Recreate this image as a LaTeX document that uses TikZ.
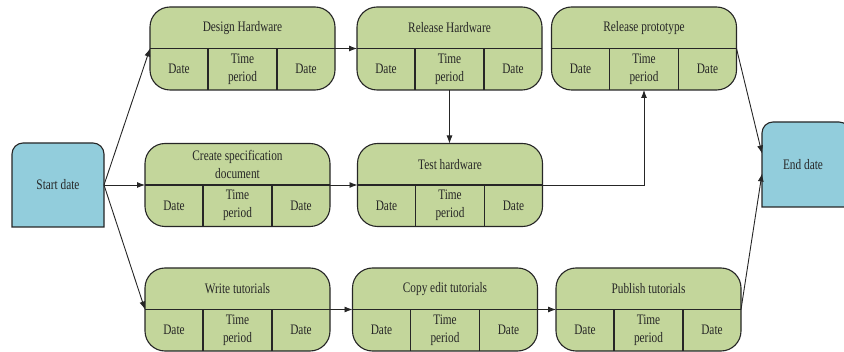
\documentclass[tikz,border=0pt]{standalone}
\usepackage{fontspec}
\setmainfont{Liberation Serif}[FakeStretch=0.78]
\usetikzlibrary{arrows.meta,backgrounds}

\definecolor{taskgreen}{HTML}{C3D69B}
\definecolor{termblue}{HTML}{92CDDC}

% name, position, title
\newcommand\taskbox[3]{%
    \node[task] (#1) at (#2) {};
    \node[tasktext] at ([yshift=20.5pt]#1.center) {#3};
    \draw[taskline] (#1.west) -- (#1.east)
        ([xshift=58pt]#1.south west) -- ([xshift=58pt]#1.west)
        ([xshift=-58pt]#1.south east) -- ([xshift=-58pt]#1.east);
    \node[tasktext] at ([xshift=-63.5pt,yshift=-20.5pt]#1.center) {Date};
    \node[tasktext] at ([yshift=-20.5pt]#1.center) {Time\\period};
    \node[tasktext] at ([xshift=63.5pt,yshift=-20.5pt]#1.center) {Date};
}
% top corners rounded only
\newcommand\termshape[1]{%
    \begin{scope}[on background layer]
    \filldraw[termline] (#1.south west) -- ([yshift=-11pt]#1.north west)
        arc[start angle=180, end angle=90, radius=11pt]
        -- ([xshift=-11pt]#1.north east)
        arc[start angle=90, end angle=0, radius=11pt]
        -- (#1.south east) -- cycle;
    \end{scope}
}

\begin{document}
\begin{tikzpicture}[
        x=1pt, y=1pt,
        task/.style={draw=black!85, line width=1.1pt, fill=taskgreen, rounded corners=20pt,
                     minimum width=185pt, minimum height=83pt, outer sep=0pt},
        tasktext/.style={align=center, inner sep=0pt, text=black!85,
                         font=\fontsize{14.5}{18}\selectfont},
        taskline/.style={draw=black!85, line width=1.1pt},
        term/.style={minimum width=92pt, minimum height=84pt, outer sep=0pt, inner sep=0pt,
                     text=black!85, font=\fontsize{14.5}{18}\selectfont},
        termline/.style={draw=black!85, line width=1.1pt, fill=termblue},
        arr/.style={draw=black!85, line width=0.9pt, -{Latex[length=8pt,width=6pt]}},
        ]
    \useasboundingbox (0,0) rectangle (844,351);

    \node[term] (start) at (58,166) {Start date};
    \termshape{start}
    \node[term, minimum width=88pt, minimum height=85pt] (end) at (806,186.5) {\hspace*{-6pt}End date};
    \termshape{end}

    \taskbox{design}{242.5,302.5}{Design Hardware}
    \taskbox{relhw}{449.5,302.5}{Release Hardware}
    \taskbox{relproto}{644,302.5}{Release prototype}
    \taskbox{spec}{237.5,166}{Create specification\\document}
    \taskbox{test}{450,166}{Test hardware}
    \taskbox{write}{237.5,41.5}{Write tutorials}
    \taskbox{copy}{445,41.5}{Copy edit tutorials}
    \taskbox{publish}{648.5,41.5}{Publish tutorials}

    \draw[arr] (start.east) -- (design.west);
    \draw[arr] (start.east) -- (spec.west);
    \draw[arr] (start.east) -- (write.west);
    \draw[arr] (design.east) -- (relhw.west);
    \draw[arr] (relhw.south) -- (relhw.south |- test.north);
    \draw[arr] (spec.east) -- (test.west);
    \draw[arr] (test.east) -| (relproto.south);
    \draw[arr] (relproto.east) -- ([yshift=11pt]end.west);
    \draw[arr] (write.east) -- (copy.west);
    \draw[arr] (copy.east) -- (publish.west);
    \draw[arr] (publish.east) -- ([yshift=-9pt]end.west);
\end{tikzpicture}
\end{document}
